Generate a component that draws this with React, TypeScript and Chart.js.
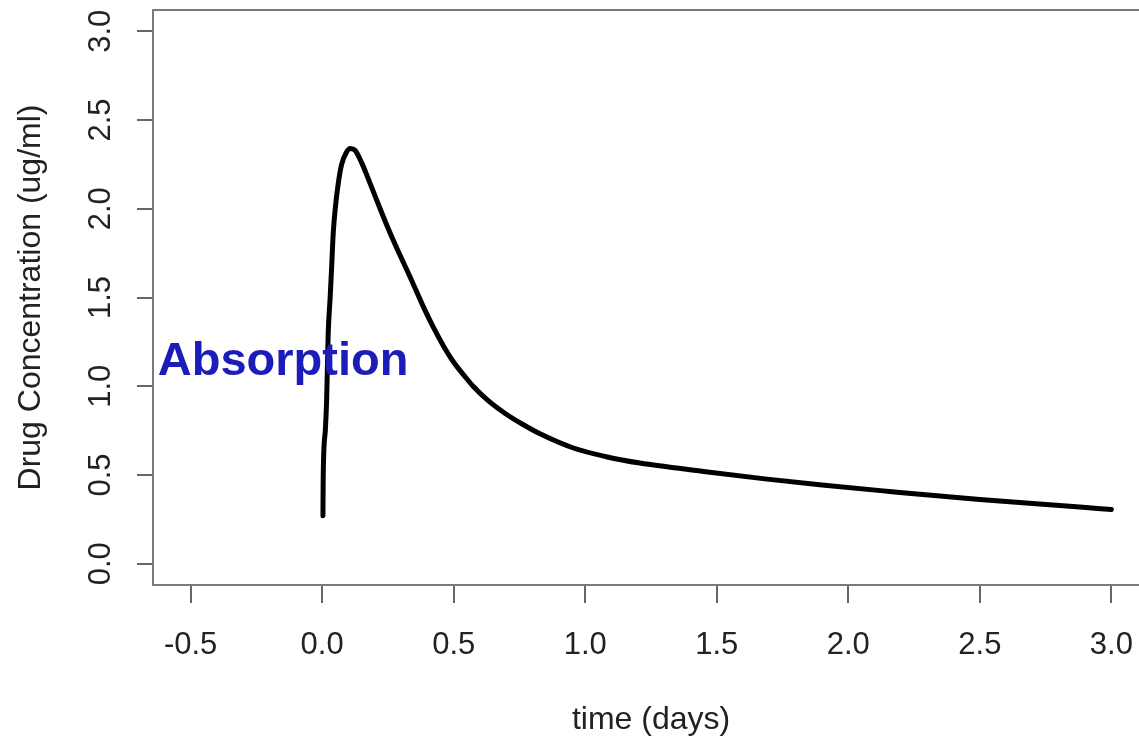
import { useEffect, useRef } from "react";
import { Chart, registerables } from "chart.js";

Chart.register(...registerables);

const timeDays = [
  0.003, 0.004, 0.012, 0.017, 0.023, 0.03, 0.036, 0.042, 0.049, 0.061, 0.074,
  0.093, 0.106, 0.125, 0.15, 0.175, 0.207, 0.245, 0.283, 0.333, 0.384, 0.42,
  0.46, 0.5, 0.54, 0.574, 0.63, 0.7, 0.76, 0.828, 0.955, 1.08, 1.208, 1.45,
  1.683, 1.9, 2.157, 2.5, 2.88, 3.0,
];
const concentration = [
  0.27, 0.49, 0.75, 0.92, 1.3, 1.49, 1.67, 1.86, 1.99, 2.14, 2.25, 2.32, 2.34,
  2.33, 2.26, 2.17, 2.05, 1.91, 1.78, 1.62, 1.45, 1.34, 1.23, 1.135, 1.06,
  1.0, 0.92, 0.842, 0.787, 0.732, 0.652, 0.603, 0.567, 0.52, 0.478, 0.443,
  0.407, 0.362, 0.32, 0.305,
];
const xTickValues = [-0.5, 0, 0.5, 1, 1.5, 2, 2.5, 3];
const yTickValues = [0, 0.5, 1, 1.5, 2, 2.5, 3];
const xTitle = "time (days)";
const yTitle = "Drug Concentration (ug/ml)";
const annotationText = "Absorption";
const annotationX = -0.625;
const annotationY = 1.065;

const FONT = "'Liberation Sans', Arial, Helvetica, sans-serif";

export default function App() {
  const ref = useRef<HTMLCanvasElement>(null);

  useEffect(() => {
    const canvas = ref.current;
    if (!canvas) return;

    const boxPlugin = {
      id: "rbox",
      afterDatasetsDraw(chart: any) {
        const { ctx, chartArea: a, scales } = chart;
        ctx.save();
        ctx.strokeStyle = "#7a7a7a";
        ctx.lineWidth = 2;
        ctx.strokeRect(a.left, a.top, a.right - a.left, a.bottom - a.top);
        ctx.fillStyle = "#1c1cb8";
        ctx.font = `bold 47px ${FONT}`;
        ctx.textAlign = "left";
        ctx.textBaseline = "alphabetic";
        ctx.fillText(
          annotationText,
          scales.x.getPixelForValue(annotationX),
          scales.y.getPixelForValue(annotationY)
        );
        ctx.restore();
      },
    };

    const chart = new Chart(canvas, {
      type: "scatter",
      data: {
        datasets: [
          {
            data: timeDays.map((t, i) => ({ x: t, y: concentration[i] })),
            showLine: true,
            borderColor: "#000",
            backgroundColor: "#000",
            borderWidth: 5,
            pointRadius: 0,
            cubicInterpolationMode: "monotone",
            borderCapStyle: "round",
            borderJoinStyle: "round",
            fill: false,
          } as any,
        ],
      },
      options: {
        responsive: false,
        animation: false,
        devicePixelRatio: 1,
        layout: { padding: { top: 10, right: 21, bottom: 0, left: 0 } },
        plugins: {
          legend: { display: false },
          tooltip: { enabled: false },
        },
        scales: {
          x: {
            type: "linear",
            min: -0.643,
            max: 3.143,
            afterBuildTicks: (s: any) => {
              s.ticks = xTickValues.map((v) => ({ value: v }));
            },
            afterFit: (s: any) => {
              s.height = 154;
              s.paddingLeft = 0;
              s.paddingRight = 0;
            },
            grid: {
              display: true,
              drawOnChartArea: false,
              drawTicks: true,
              tickLength: 18,
              color: "#666",
              lineWidth: 2,
            },
            border: { display: false },
            ticks: {
              padding: 24,
              color: "#222",
              font: { family: FONT, size: 31 },
              autoSkip: false,
              maxRotation: 0,
              minRotation: 0,
              callback: (v: any) => Number(v).toFixed(1),
            },
            title: {
              display: true,
              text: xTitle,
              color: "#222",
              font: { family: FONT, size: 32 },
              padding: { top: 0, bottom: 0 },
            },
          },
          y: {
            type: "linear",
            min: -0.12,
            max: 3.12,
            afterBuildTicks: (s: any) => {
              s.ticks = yTickValues.map((v) => ({ value: v }));
            },
            afterFit: (s: any) => {
              s.width = 153;
              s.paddingTop = 0;
              s.paddingBottom = 0;
            },
            grid: {
              display: true,
              drawOnChartArea: false,
              drawTicks: true,
              tickLength: 16,
              color: "#666",
              lineWidth: 2,
            },
            border: { display: false },
            ticks: {
              padding: 14,
              color: "#222",
              font: { family: FONT, size: 31 },
              autoSkip: false,
              minRotation: 90,
              maxRotation: 90,
              crossAlign: "center",
              callback: (v: any) => Number(v).toFixed(1),
            },
            title: {
              display: true,
              text: yTitle,
              color: "#222",
              font: { family: FONT, size: 32 },
              padding: { top: 12, bottom: 0 },
            },
          },
        },
      } as any,
      plugins: [boxPlugin],
    });

    return () => chart.destroy();
  }, []);

  return (
    <div
      style={{
        position: "fixed",
        left: 0,
        top: 0,
        width: 1139,
        height: 739,
        overflow: "hidden",
        background: "#fff",
      }}
    >
      <canvas
        ref={ref}
        width={1170}
        height={739}
        style={{ width: 1170, height: 739, display: "block" }}
      />
    </div>
  );
}
